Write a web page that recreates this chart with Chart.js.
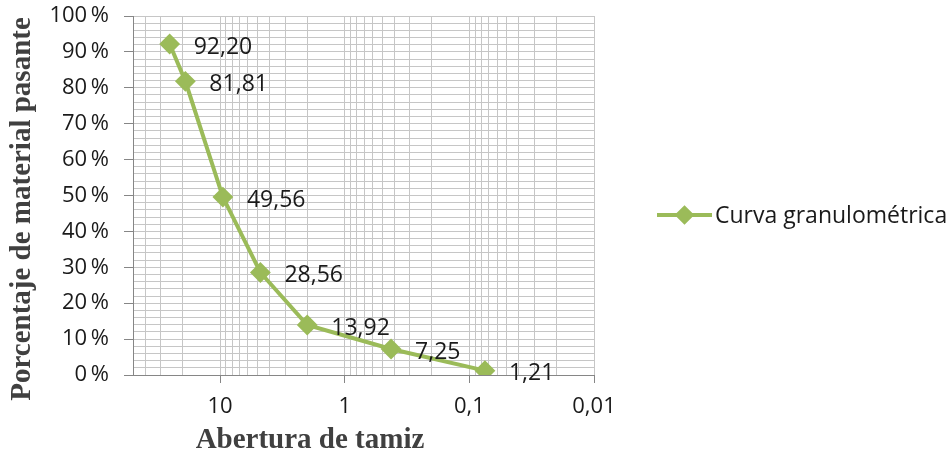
<!DOCTYPE html>
<html>
<head>
<meta charset="utf-8">
<script src="https://cdn.jsdelivr.net/npm/chart.js@4/dist/chart.umd.min.js"></script>
<style>
  html, body { margin: 0; padding: 0; background: #fff; }
  #wrap { width: 952px; height: 458px; }
</style>
</head>
<body>
<div id="wrap"><canvas id="curveChart"></canvas></div>
<script>
// Abertura de tamiz (mm) and % pasante
const sieveOpenings = [25.4, 19.0, 9.5, 4.75, 2.0, 0.425, 0.075];
const percentPassing = [92.20, 81.81, 49.56, 28.56, 13.92, 7.25, 1.21];
const pointLabels = ['92,20', '81,81', '49,56', '28,56', '13,92', '7,25', '1,21'];

const xTickValues = [10, 1, 0.1, 0.01];
const xTickLabels = ['10', '1', '0,1', '0,01'];
const yTickValues = [0, 10, 20, 30, 40, 50, 60, 70, 80, 90, 100];

const seriesName = 'Curva granulométrica';
const xTitle = 'Abertura de tamiz';
const yTitle = 'Porcentaje de material pasante';

const green = '#9bbb59';
const gridGray = '#c6c6c6';
const axisGray = '#868686';
const labelFont = '"Open Sans", sans-serif';

function isMajorX(v) {
    return xTickValues.findIndex(t => Math.abs(t - v) / t < 1e-6);
}

// data labels to the right of each point, plus legend and axis titles
const extrasPlugin = {
    id: 'extras',
    afterDatasetsDraw(chart) {
        const ctx = chart.ctx;
        const meta = chart.getDatasetMeta(0);
        ctx.save();
        ctx.font = '23px ' + labelFont;
        ctx.fillStyle = '#1a1a1a';
        ctx.textAlign = 'left';
        ctx.textBaseline = 'middle';
        meta.data.forEach((pt, i) => {
            ctx.fillText(pointLabels[i], pt.x + 24, pt.y + 3);
        });
        ctx.restore();
    },
    afterDraw(chart) {
        const ctx = chart.ctx;
        const area = chart.chartArea;
        ctx.save();

        // axis titles
        ctx.fillStyle = '#404040';
        ctx.font = 'bold 29px "Liberation Serif", "Times New Roman", serif';
        ctx.textAlign = 'center';
        ctx.textBaseline = 'middle';
        ctx.fillText(xTitle, area.left + 177, 441);
        ctx.translate(23, 209);
        ctx.rotate(-Math.PI / 2);
        ctx.fillText(yTitle, 0, 0);
        ctx.restore();

        // legend
        ctx.save();
        const ly = 215;
        ctx.strokeStyle = green;
        ctx.lineWidth = 4;
        ctx.beginPath();
        ctx.moveTo(657, ly);
        ctx.lineTo(712, ly);
        ctx.stroke();
        Chart.helpers.drawPoint(ctx, {
            pointStyle: 'rectRot', radius: 7, rotation: 0, borderWidth: 1
        }, 684.5, ly);
        ctx.fillStyle = green;
        ctx.fill();
        ctx.fillStyle = '#1a1a1a';
        ctx.font = '23px ' + labelFont;
        ctx.textAlign = 'left';
        ctx.textBaseline = 'middle';
        ctx.fillText(seriesName, 715, ly + 1);
        ctx.restore();
    }
};

const ctx = document.getElementById('curveChart').getContext('2d');
const curveChart = new Chart(ctx, {
    type: 'line',
    data: {
        datasets: [{
            label: seriesName,
            data: sieveOpenings.map((x, i) => ({ x: x, y: percentPassing[i] })),
            borderColor: green,
            backgroundColor: green,
            borderWidth: 4,
            pointStyle: 'rectRot',
            pointRadius: 9,
            pointBorderWidth: 2,
            pointBackgroundColor: green,
            pointBorderColor: green,
            tension: 0,
            fill: false
        }]
    },
    options: {
        responsive: true,
        maintainAspectRatio: false,
        animation: false,
        layout: {
            padding: { top: 16, right: 358, bottom: 0, left: 0 }
        },
        plugins: {
            legend: { display: false },
            tooltip: { enabled: false }
        },
        scales: {
            x: {
                type: 'logarithmic',
                reverse: true,
                min: 0.01,
                max: 50,
                afterBuildTicks: axis => {
                    // one grid line at every 1..9 x 10^k between 0.01 and 50
                    const ticks = [];
                    for (let k = -2; k <= 1; k++) {
                        for (let m = 1; m <= 9; m++) {
                            const v = Number((m * Math.pow(10, k)).toPrecision(3));
                            if (v >= 0.01 && v <= 50) ticks.push({ value: v });
                        }
                    }
                    axis.ticks = ticks;
                },
                afterFit: axis => {
                    axis.height = 83;
                    axis.paddingLeft = 0;
                    axis.paddingRight = 0;
                },
                ticks: {
                    autoSkip: false,
                    maxRotation: 0,
                    padding: 11,
                    color: '#1a1a1a',
                    font: { family: labelFont, size: 22 },
                    callback: function(value) {
                        const i = isMajorX(value);
                        return i >= 0 ? xTickLabels[i] : '';
                    }
                },
                grid: {
                    color: gridGray,
                    lineWidth: 1,
                    tickLength: 8,
                    tickColor: c => (c.tick && isMajorX(c.tick.value) >= 0) ? axisGray : 'rgba(0,0,0,0)'
                },
                border: { color: axisGray, width: 1 }
            },
            y: {
                min: 0,
                max: 100,
                afterBuildTicks: axis => {
                    const ticks = [];
                    for (let v = 0; v <= 100; v += 2) ticks.push({ value: v });
                    axis.ticks = ticks;
                },
                afterFit: axis => {
                    axis.width = 133;
                    axis.paddingTop = 0;
                    axis.paddingBottom = 0;
                },
                ticks: {
                    autoSkip: false,
                    padding: 15,
                    color: '#1a1a1a',
                    font: { family: labelFont, size: 22 },
                    callback: function(value) {
                        return yTickValues.includes(value) ? value + '\u2009%' : '';
                    }
                },
                grid: {
                    color: gridGray,
                    lineWidth: 1,
                    tickLength: 9,
                    tickColor: c => (c.tick && yTickValues.includes(c.tick.value)) ? axisGray : 'rgba(0,0,0,0)'
                },
                border: { color: axisGray, width: 1 }
            }
        }
    },
    plugins: [extrasPlugin]
});
</script>
</body>
</html>
